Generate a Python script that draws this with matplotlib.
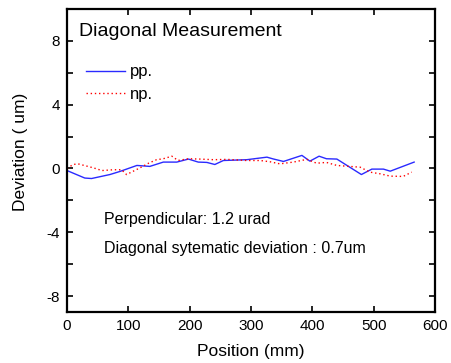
import matplotlib.pyplot as plt
from matplotlib.ticker import MultipleLocator

plt.rcParams['font.family'] = ['Liberation Sans', 'DejaVu Sans']
plt.rcParams['axes.unicode_minus'] = False

# pp. series (solid blue)
pp_x = [0, 29, 40, 70, 86, 114, 135, 157, 179, 198, 214, 228, 241, 255, 293,
        326, 336, 353, 383, 396, 411, 423, 440, 480, 497, 516, 527, 566]
pp_y = [-0.13, -0.6, -0.63, -0.38, -0.19, 0.19, 0.13, 0.4, 0.4, 0.59, 0.4, 0.38,
        0.25, 0.5, 0.55, 0.71, 0.6, 0.44, 0.82, 0.46, 0.77, 0.61, 0.59, -0.38,
        -0.04, -0.04, -0.17, 0.4]

# np. series (dotted red)
np_x = [0, 10, 18, 32, 43, 57, 76, 89, 97, 105, 119, 133, 146, 157, 171, 181,
        198, 216, 239, 261, 293, 315, 331, 347, 369, 391, 407, 423, 440, 478,
        494, 510, 527, 548, 562]
np_y = [0.0, 0.25, 0.29, 0.15, 0.04, -0.13, -0.08, -0.08, -0.38, -0.23, 0.04,
        0.33, 0.55, 0.61, 0.77, 0.5, 0.61, 0.59, 0.55, 0.57, 0.5, 0.5, 0.42,
        0.29, 0.4, 0.57, 0.33, 0.38, 0.19, 0.08, -0.23, -0.33, -0.48, -0.5, -0.23]

fig = plt.figure(figsize=(4.51, 3.63), dpi=100)
ax = fig.add_axes([67/451, 1 - 312/363, (435-67)/451, (312-9)/363])

ax.plot(pp_x, pp_y, color='#2a2aff', lw=1.0, label='pp.')
ax.plot(np_x, np_y, color='red', lw=1.0, ls=(0, (1, 2)), label='np.')

ax.set_xlim(0, 600)
ax.set_ylim(-9, 10)
ax.xaxis.set_major_locator(MultipleLocator(100))
ax.yaxis.set_major_locator(MultipleLocator(4))
ax.yaxis.set_minor_locator(MultipleLocator(2))
ax.tick_params(which='both', direction='in', top=True, right=True,
               length=4, width=1.2, labelsize=11, pad=5)
for s in ax.spines.values():
    s.set_linewidth(1.6)

ax.set_xlabel('Position (mm)', fontsize=12.5, labelpad=8)
ax.set_ylabel('Deviation ( um)', fontsize=12.5)
ax.yaxis.set_label_coords(-0.105, 0.53)

ax.text(0.033, 0.927, 'Diagonal Measurement', transform=ax.transAxes,
        fontsize=14, va='center', ha='left')
ax.legend(loc='upper left', bbox_to_anchor=(0.052, 0.817), frameon=False,
          fontsize=12, handlelength=2.35, handletextpad=0.3,
          labelspacing=0.44, borderpad=0, borderaxespad=0)

ax.text(0.1, 0.304, 'Perpendicular: 1.2 urad', transform=ax.transAxes,
        fontsize=11.5, va='center', ha='left')
ax.text(0.1, 0.211, 'Diagonal sytematic deviation : 0.7um', transform=ax.transAxes,
        fontsize=11.5, va='center', ha='left')

fig.savefig('out.png', dpi=100)
